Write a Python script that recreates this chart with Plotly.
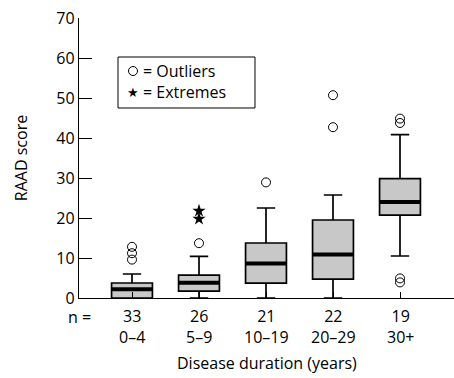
import plotly.graph_objects as go

categories = ["0–4", "5–9", "10–19", "20–29", "30+"]
n_counts = [33, 26, 21, 22, 19]
q1 = [0.0, 1.7, 3.7, 4.7, 20.7]
median = [2.2, 3.8, 8.6, 10.85, 24.0]
q3 = [3.75, 5.7, 13.75, 19.5, 29.85]
lower_whisker = [0.0, 0.0, 0.0, 0.0, 10.5]
upper_whisker = [6.0, 10.4, 22.5, 25.75, 40.85]
outlier_x = [0, 0, 0, 1, 2, 3, 3, 4, 4, 4, 4]
outlier_y = [12.8, 11.2, 9.6, 13.7, 28.9, 50.7, 42.7, 44.85, 43.75, 4.9, 3.9]
extreme_x = [1, 1]
extreme_y = [21.8, 19.8]
y_ticks = [0, 10, 20, 30, 40, 50, 60, 70]

FONT = "Open Sans"
FS = 16
xpos = list(range(len(categories)))
BOX_W = 0.61

fig = go.Figure()
fig.add_trace(go.Box(
    x=xpos, q1=q1, median=median, q3=q3,
    lowerfence=lower_whisker, upperfence=upper_whisker,
    width=BOX_W, whiskerwidth=0.45,
    fillcolor="#c8c8c8", line=dict(color="black", width=1.7),
    boxpoints=False, showlegend=False, hoverinfo="skip",
))
fig.add_trace(go.Scatter(
    x=outlier_x, y=outlier_y, mode="markers", name="Outliers",
    marker=dict(symbol="circle-open", size=9, color="black", line=dict(width=1)),
    cliponaxis=False, showlegend=False,
))
fig.add_trace(go.Scatter(
    x=extreme_x, y=extreme_y, mode="markers", name="Extremes",
    marker=dict(symbol="star", size=10, color="black"),
    cliponaxis=False, showlegend=False,
))
for i, m in enumerate(median):
    fig.add_shape(type="line", xref="x", yref="y",
                  x0=i - BOX_W / 2, x1=i + BOX_W / 2, y0=m, y1=m,
                  line=dict(color="black", width=4))

# category labels under the axis
for i, (n, c) in enumerate(zip(n_counts, categories)):
    fig.add_annotation(text=f"{n}<br>{c}", xref="x", yref="paper", x=i, y=0,
                       xanchor="center", yanchor="top", yshift=-5, showarrow=False,
                       font=dict(family=FONT, size=FS, color="black"))
fig.add_annotation(text="n =", xref="paper", yref="paper", x=0, y=0,
                   xanchor="center", yanchor="top", yshift=-6, showarrow=False,
                   font=dict(family=FONT, size=FS, color="black"))
fig.add_annotation(text="Disease duration (years)", xref="paper", yref="paper",
                   x=0.5, y=0, xanchor="center", yanchor="middle", yshift=-65,
                   showarrow=False, font=dict(family=FONT, size=FS, color="black"))

# key box
fig.add_shape(type="rect", xref="paper", yref="paper",
              x0=0.104, x1=0.4693, y0=0.6786, y1=0.8607,
              line=dict(color="black", width=1), fillcolor="white", layer="above")
fig.add_shape(type="circle", xref="paper", yref="paper",
              xsizemode="pixel", ysizemode="pixel", xanchor=0.144, yanchor=0.8107,
              x0=-4.5, x1=4.5, y0=-4.5, y1=4.5,
              line=dict(color="black", width=1), layer="above")
fig.add_annotation(text="★", xref="paper", yref="paper", x=0.144, y=0.7357,
                   xanchor="center", yanchor="middle", showarrow=False,
                   font=dict(family="DejaVu Sans", size=13, color="black"))
fig.add_annotation(text="= Outliers", xref="paper", yref="paper", x=0.164, y=0.8107,
                   xanchor="left", yanchor="middle", showarrow=False,
                   font=dict(family=FONT, size=FS, color="black"))
fig.add_annotation(text="= Extremes", xref="paper", yref="paper", x=0.164, y=0.7357,
                   xanchor="left", yanchor="middle", showarrow=False,
                   font=dict(family=FONT, size=FS, color="black"))

fig.update_layout(
    width=454, height=378,
    margin=dict(l=79, r=0, t=18, b=80),
    plot_bgcolor="white", paper_bgcolor="white",
    font=dict(family=FONT, size=FS, color="black"),
    showlegend=False,
    xaxis=dict(range=[-0.791, 4.806], tickmode="array", tickvals=xpos,
               showticklabels=False, showline=True, linecolor="black", linewidth=1.3,
               ticks="inside", ticklen=6, tickcolor="black", tickwidth=1.3,
               showgrid=False, zeroline=False, automargin=False),
    yaxis=dict(range=[0, 70], tickvals=y_ticks, showline=True, linecolor="black",
               linewidth=1.3, ticks="inside", ticklen=13, tickcolor="black",
               tickwidth=1.3, showgrid=False, zeroline=False, automargin=False,
               title=dict(text="RAAD score", font=dict(size=FS), standoff=24)),
)

fig.write_html("out.html", config={"displayModeBar": False},
               post_script="document.body.style.margin='0';document.body.style.overflow='hidden';")
